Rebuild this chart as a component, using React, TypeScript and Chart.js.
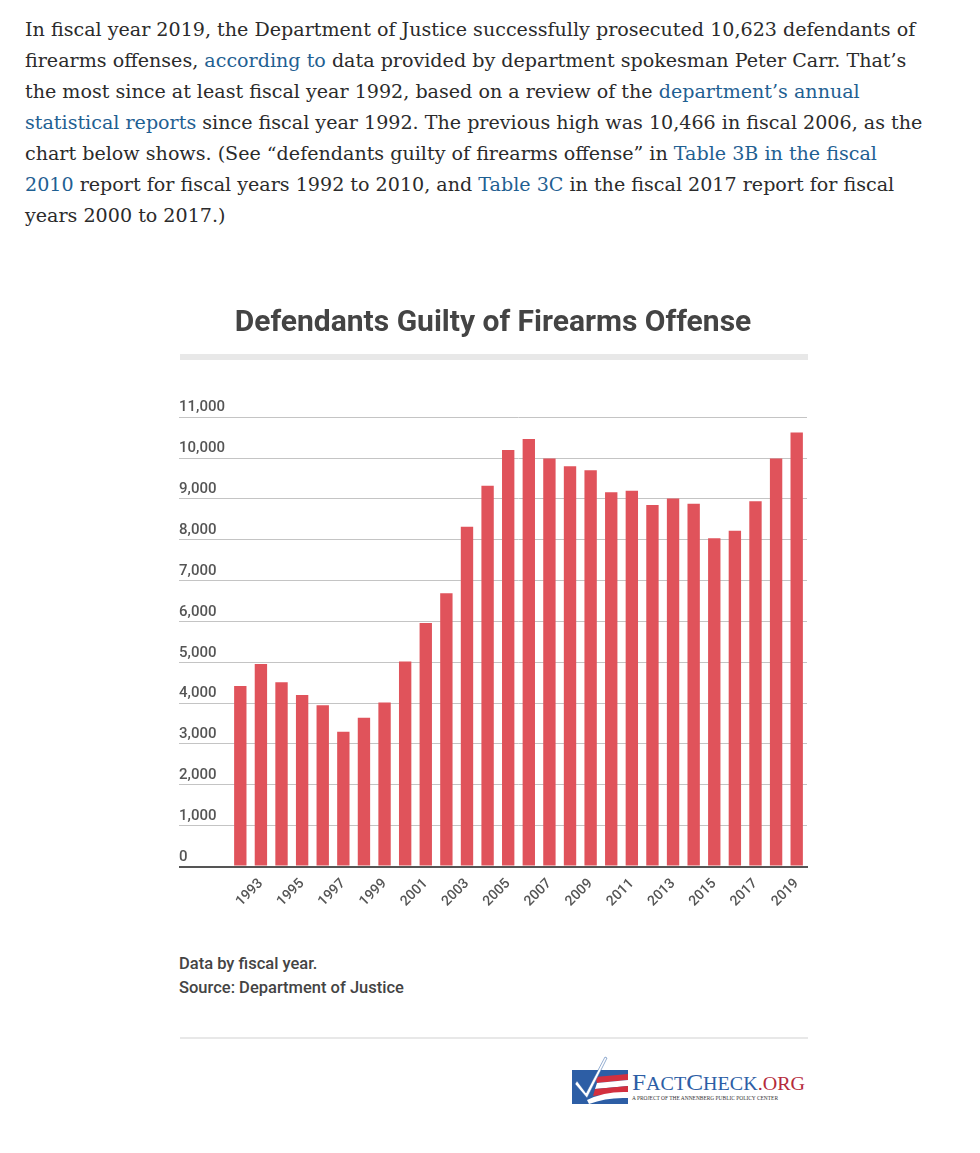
import React, { useEffect, useRef } from "react";
import { Chart, registerables } from "chart.js";

Chart.register(...registerables);

const TITLE = "Defendants Guilty of Firearms Offense";
const YEARS = [
  "1992", "1993", "1994", "1995", "1996", "1997", "1998", "1999", "2000", "2001",
  "2002", "2003", "2004", "2005", "2006", "2007", "2008", "2009", "2010", "2011",
  "2012", "2013", "2014", "2015", "2016", "2017", "2018", "2019",
];
const GUILTY = [
  4420, 4960, 4510, 4200, 3950, 3300, 3640, 4015, 5020, 5960,
  6690, 8320, 9320, 10200, 10466, 9990, 9800, 9700, 9160, 9200,
  8850, 9010, 8880, 8035, 8220, 8940, 9990, 10623,
];
const Y_MIN = 0;
const Y_MAX = 11000;
const Y_STEP = 1000;
const FOOTNOTES = ["Data by fiscal year.", "Source: Department of Justice"];

const BAR_COLOR = "#e0535b";
const LINK = "#1f6092";

function L({ children }: { children: React.ReactNode }) {
  return <span style={{ color: LINK }}>{children}</span>;
}

export default function App() {
  const ref = useRef<HTMLCanvasElement>(null);

  useEffect(() => {
    if (!ref.current) return;
    const chart = new Chart(ref.current, {
      type: "bar",
      data: {
        labels: YEARS,
        datasets: [
          {
            data: GUILTY,
            backgroundColor: BAR_COLOR,
            barPercentage: 0.6,
            categoryPercentage: 1,
          },
        ],
      },
      options: {
        responsive: false,
        animation: false,
        layout: { padding: { left: 9, right: 8, top: 0, bottom: 0 } },
        plugins: {
          legend: { display: false },
          tooltip: { enabled: false },
          title: {
            display: true,
            text: TITLE,
            color: "#444",
            font: { family: "Roboto", size: 30, weight: "bold", lineHeight: 1.2 },
            padding: { top: 5, bottom: 76.2 },
          },
        },
        scales: {
          x: {
            grid: { display: false },
            border: { color: "#555", width: 2 },
            ticks: {
              autoSkip: false,
              maxRotation: 45,
              minRotation: 45,
              padding: 1,
              color: "#555",
              font: { family: "Roboto", size: 14, weight: "500" },
              callback: (_v: any, i: number) =>
                Number(YEARS[i]) % 2 === 1 ? YEARS[i] : "",
            },
            afterFit: (s: any) => {
              s.height = 53.5;
            },
          },
          y: {
            min: Y_MIN,
            max: Y_MAX,
            border: { display: false },
            grid: {
              drawTicks: true,
              tickLength: 51,
              color: (c: any) => (c.tick && c.tick.value === 0 ? "#555" : "#c4c4c4"),
              lineWidth: (c: any) => (c.tick && c.tick.value === 0 ? 2 : 1),
            },
            ticks: {
              stepSize: Y_STEP,
              mirror: true,
              padding: -51,
              labelOffset: -9.5,
              color: "#555",
              font: { family: "Roboto", size: 15, weight: "500" },
              callback: (v: any) => Number(v).toLocaleString("en-US"),
            },
            afterFit: (s: any) => {
              s.width = 51;
            },
          },
        },
      },
    });
    return () => chart.destroy();
  }, []);

  const lineStyle: React.CSSProperties = { whiteSpace: "nowrap", display: "block" };

  return (
    <div style={{ position: "absolute", left: 0, top: 0, width: 980, height: 1153, background: "#fff" }}>
      <div
        style={{
          position: "absolute",
          left: 25,
          top: 14,
          fontFamily: "'DejaVu Serif', serif",
          fontSize: 19.1,
          lineHeight: "31px",
          color: "#2b2b2b",
        }}
      >
        <span style={lineStyle}>In fiscal year 2019, the Department of Justice successfully prosecuted 10,623 defendants of</span>
        <span style={lineStyle}>firearms offenses, <L>according to</L> data provided by department spokesman Peter Carr. That’s</span>
        <span style={lineStyle}>the most since at least fiscal year 1992, based on a review of the <L>department’s annual</L></span>
        <span style={lineStyle}><L>statistical reports</L> since fiscal year 1992. The previous high was 10,466 in fiscal 2006, as the</span>
        <span style={lineStyle}>chart below shows. (See “defendants guilty of firearms offense” in <L>Table 3B in the fiscal</L></span>
        <span style={lineStyle}><L>2010</L> report for fiscal years 1992 to 2010, and <L>Table 3C</L> in the fiscal 2017 report for fiscal</span>
        <span style={lineStyle}>years 2000 to 2017.)</span>
      </div>

      <canvas
        ref={ref}
        width={645}
        height={620}
        style={{ position: "absolute", left: 170, top: 300, width: 645, height: 620 }}
      />

      <div style={{ position: "absolute", left: 180, top: 354, width: 628, height: 6, background: "#e8e8e8" }} />

      <div
        style={{
          position: "absolute",
          left: 179,
          top: 952,
          fontFamily: "Roboto, sans-serif",
          fontWeight: 500,
          fontSize: 16.5,
          lineHeight: "24px",
          color: "#444",
        }}
      >
        {FOOTNOTES.map((f) => (
          <div key={f}>{f}</div>
        ))}
      </div>

      <div style={{ position: "absolute", left: 180, top: 1037, width: 628, height: 2, background: "#e8e8e8" }} />

      <svg
        width={250}
        height={56}
        viewBox="0 0 250 56"
        style={{ position: "absolute", left: 565, top: 1053 }}
      >
        <rect x={7} y={17} width={56} height={34} fill="#2d5ea5" />
        <path d="M30 24 L63 21 L63 27 L32 30 Z" fill="#d3303f" />
        <path d="M32 30 L63 27 L63 33 L30 36 Z" fill="#ffffff" />
        <path d="M30 36 L63 33 L63 39 L28 43 Z" fill="#d3303f" />
        <path d="M22 47 Q40 38 63 39 L63 45 Q42 44 24 51 Z" fill="#ffffff" />
        <path d="M12 28 L21 40 L40 4 L42 5 L22 45 L10 31 Z" fill="#ffffff" stroke="#2d5ea5" strokeWidth={0.5} />
        <text
          x={67}
          y={37}
          fontFamily="'Liberation Serif', serif"
          fill="#2d5ea5"
          textLength={173}
          lengthAdjust="spacingAndGlyphs"
        >
          <tspan fontSize={24}>F</tspan>
          <tspan fontSize={19}>ACT</tspan>
          <tspan fontSize={24}>C</tspan>
          <tspan fontSize={19}>HECK</tspan>
          <tspan fontSize={19} fill="#b52a3b">.ORG</tspan>
        </text>
        <text
          x={67}
          y={47}
          fontFamily="'Liberation Serif', serif"
          fontSize={5.5}
          fill="#333"
          textLength={146}
          lengthAdjust="spacingAndGlyphs"
        >
          A PROJECT OF THE ANNENBERG PUBLIC POLICY CENTER
        </text>
      </svg>
    </div>
  );
}
